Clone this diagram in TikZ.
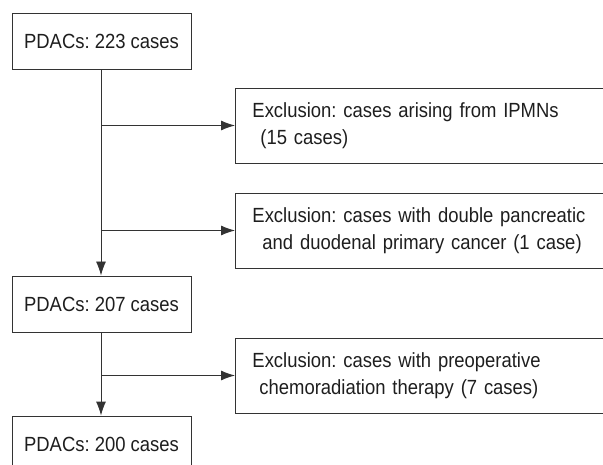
\documentclass[tikz,border=0pt]{standalone}
\usepackage{fontspec}
\setmainfont{Liberation Sans}[FakeStretch=0.9]
\usetikzlibrary{arrows.meta}
\definecolor{ln}{HTML}{333333}
\definecolor{tx}{HTML}{1E1E1E}
\frenchspacing
\begin{document}
\begin{tikzpicture}[x=1pt,y=-1pt,
  every node/.style={font=\fontsize{20.5}{27}\selectfont, text=tx},
  mainbox/.style={draw=ln, line width=0.9pt, minimum width=179pt, minimum height=56pt, inner sep=0pt},
  exbox/.style={draw=ln, line width=0.9pt, minimum width=380pt, minimum height=75pt, inner xsep=17pt, inner ysep=0pt, text width=346pt, align=left, anchor=west},
  flow/.style={draw=ln, line width=0.9pt, -{Latex[length=14pt,width=10pt]}}]
\useasboundingbox (0,0) rectangle (603,465);
\node[mainbox] (b1) at (101.5,41) {PDACs: 223 cases};
\node[mainbox] (b2) at (101.5,304) {PDACs: 207 cases};
\node[mainbox] (b3) at (101.5,444) {PDACs: 200 cases};
\node[exbox] (e1) at (235,125.5) {Exclusion: cases arising from IPMNs\\\hspace*{8pt}(15 cases)};
\node[exbox] (e2) at (235,230.5) {Exclusion: cases with double pancreatic\\\hspace*{10pt}and duodenal primary cancer (1 case)};
\node[exbox] (e3) at (235,375.5) {Exclusion: cases with preoperative\\\hspace*{7pt}chemoradiation therapy (7 cases)};
\draw[flow] (b1.south -| 101,0) -- (b2.north -| 101,0);
\draw[flow] (b2.south -| 101,0) -- (b3.north -| 101,0);
\draw[flow] (e1.west -| b1.south) -- (e1.west);
\draw[flow] (e2.west -| b1.south) -- (e2.west);
\draw[flow] (e3.west -| b2.south) -- (e3.west);
\end{tikzpicture}
\end{document}
